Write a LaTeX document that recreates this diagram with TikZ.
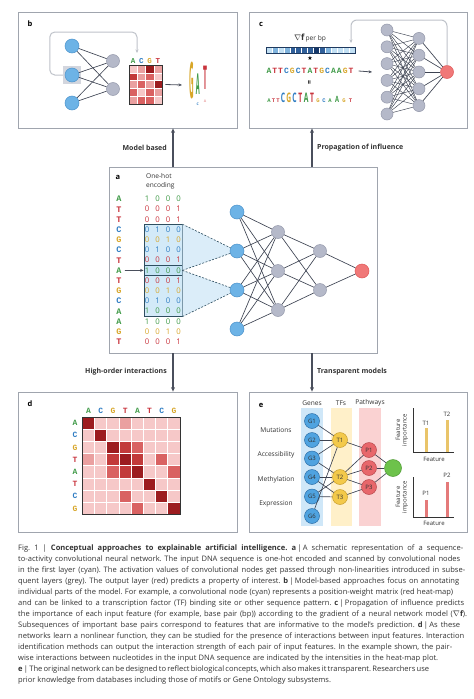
\documentclass[tikz,border=0pt]{standalone}
\usepackage{fontspec}
\setmainfont{Open Sans}
\newfontfamily\seqf{Liberation Mono}
\newfontfamily\symf{DejaVu Sans}
\usepackage{graphicx}
\usetikzlibrary{arrows.meta}
\newcommand\capline[2]{\makebox[#1pt][s]{#2}\\}
\definecolor{boxgray}{HTML}{A0A5AE}
\definecolor{arrgray}{HTML}{4A4F5C}
\definecolor{nblue}{HTML}{6DB3E6}
\definecolor{nblueD}{HTML}{4C93CC}
\definecolor{ngray}{HTML}{B5B9C9}
\definecolor{ngrayD}{HTML}{9599AB}
\definecolor{nred}{HTML}{F07878}
\definecolor{nredD}{HTML}{E05858}
\definecolor{edgec}{HTML}{3D4352}
\definecolor{hlfill}{HTML}{D3EAF8}
\definecolor{hlin}{HTML}{C4E3F5}
\definecolor{hldraw}{HTML}{2E4E60}
\definecolor{trifill}{HTML}{CFE8F8}
\definecolor{loopgray}{HTML}{BFC3CA}
\definecolor{sqgray}{HTML}{D3D6DE}
\definecolor{colA}{HTML}{3F9A47}
\definecolor{colC}{HTML}{2F7DC3}
\definecolor{colG}{HTML}{D8A628}
\definecolor{colT}{HTML}{C9343D}
\definecolor{m0}{HTML}{F6C8C8}
\definecolor{m1}{HTML}{EAA0A0}
\definecolor{m2}{HTML}{D96262}
\definecolor{m3}{HTML}{C23A3A}
\definecolor{m4}{HTML}{9C1C1F}
\definecolor{g0}{HTML}{C2E0F4}
\definecolor{g1}{HTML}{7FB3DD}
\definecolor{g2}{HTML}{2F5F9A}
\definecolor{g3}{HTML}{16386A}
\definecolor{gbord}{HTML}{1F3A5F}
\definecolor{genef}{HTML}{4FA3E0}
\definecolor{geneD}{HTML}{2D6FA8}
\definecolor{tff}{HTML}{F3C94A}
\definecolor{tfD}{HTML}{C9A030}
\definecolor{pf}{HTML}{E8676B}
\definecolor{pD}{HTML}{B84A4E}
\definecolor{grf}{HTML}{6DC24B}
\definecolor{grD}{HTML}{4E9A33}
\definecolor{stripB}{HTML}{CFE7F8}
\definecolor{stripY}{HTML}{FFF0C9}
\definecolor{stripP}{HTML}{FAD2D2}
\definecolor{barY}{HTML}{E9C46A}
\definecolor{barP}{HTML}{E47A7A}
\definecolor{txt}{HTML}{333333}
\begin{document}
\begin{tikzpicture}[x=1pt,y=-1pt,
 panel/.style={draw=boxgray, line width=0.8pt, inner sep=0},
 conn/.style={draw=arrgray, line width=1.1pt, -{Stealth[length=4.5pt,width=4pt]}},
 arr/.style={draw=arrgray, line width=0.8pt, -{Stealth[length=3.5pt,width=3pt]}},
 loopc/.style={draw=loopgray, line width=1pt, rounded corners=5pt, -{Stealth[length=3.5pt,width=3pt]}},
 lab/.style={font=\fontsize{7}{9}\selectfont\bfseries, text=txt, inner sep=0},
 plabel/.style={font=\fontsize{7.5}{9}\selectfont\bfseries, text=black, inner sep=0},
 bn/.style={circle, fill=nblue, draw=nblueD, line width=0.5pt, minimum size=14pt, inner sep=0},
 gn/.style={circle, fill=ngray, draw=ngrayD, line width=0.5pt, minimum size=13pt, inner sep=0},
 rn/.style={circle, fill=nred, draw=nredD, line width=0.5pt, minimum size=14pt, inner sep=0},
 ed/.style={draw=edgec, line width=0.65pt},
 edt/.style={draw=edgec, line width=0.45pt},
 dsh/.style={draw=hldraw, line width=0.6pt, dashed, dash pattern=on 2pt off 1.5pt},
 seqL/.style={font={\fontsize{8.5}{9}\seqf\bfseries}, inner sep=0},
 dig/.style={font=\fontsize{7.8}{9}\selectfont, inner sep=0},
 small/.style={font=\fontsize{6.6}{8.5}\selectfont, text=txt, inner sep=0},
 tiny/.style={font=\fontsize{6}{6.5}\selectfont, text=txt, inner sep=0},
 en/.style={circle, line width=0.5pt, minimum size=15pt, inner sep=0, font=\fontsize{6}{7}\selectfont, text=txt},
]
\useasboundingbox[fill=white] (0,0) rectangle (474,699);

% ---------- panels ----------
\node[panel, minimum width=219pt, minimum height=116pt] (pb) at (127.5,70) {};
\node[panel, minimum width=218pt, minimum height=116pt] (pc) at (358,70) {};
\node[panel, minimum width=268pt, minimum height=186pt] (pa) at (243,260) {};
\node[panel, minimum width=219pt, minimum height=140pt] (pd) at (127.5,462) {};
\node[panel, minimum width=218pt, minimum height=140pt] (pe) at (358,462) {};

\coordinate (xl) at (173,0);
\coordinate (xr) at (312,0);
\draw[conn] (pa.north -| xl) -- (pb.south -| xl);
\draw[conn] (pa.north -| xr) -- (pc.south -| xr);
\draw[conn] (pa.south -| xl) -- (pd.north -| xl);
\draw[conn] (pa.south -| xr) -- (pe.north -| xr);
\node[lab, anchor=east] (lmb) at (167,148) {Model based};
\node[lab, anchor=west] (lpi) at (317,148) {Propagation of influence};
\node[lab, anchor=east] (lhi) at (167,372) {High-order interactions};
\node[lab, anchor=west] (ltm) at (317,372) {Transparent models};

% ---------- panel a ----------
\node[plabel] (la) at (118,177) {a};
\node[small, anchor=west, align=left] (ohe) at (146,181.5) {One-hot\\encoding};
\node[draw=hldraw, line width=0.8pt, fill=hlfill, minimum width=38pt, minimum height=91.6pt, inner sep=0] (hbox) at (163,270.4) {};
\node[draw=hldraw, line width=0.8pt, fill=hlin, minimum width=38pt, minimum height=10.2pt, inner sep=0] (hin) at (163,270.4) {};
\coordinate (pa1) at (237,212);
\coordinate (pa2) at (237,251);
\coordinate (pa3) at (237,290);
\coordinate (pa4) at (237,329);
\fill[trifill, opacity=0.75] (hbox.north east) -- (pa2) -- (hin.east) -- cycle;
\fill[trifill, opacity=0.75] (hin.east) -- (pa3) -- (hbox.south east) -- cycle;
\foreach \bb/\xa/\xb/\xc/\xd [count=\i from 0] in {A/1/0/0/0, T/0/0/0/1, T/0/0/0/1, C/0/1/0/0, G/0/0/1/0, C/0/1/0/0, T/0/0/0/1, A/1/0/0/0, T/0/0/0/1, G/0/0/1/0, C/0/1/0/0, A/1/0/0/0, A/1/0/0/0, G/0/0/1/0, T/0/0/0/1}{
  \pgfmathsetmacro{\yy}{199+10.2*\i}
  \node[seqL, text=col\bb] (s\i) at (119,\yy) {\bb};
  \node[dig, text=col\bb] (d\i-1) at (147,\yy) {\xa};
  \node[dig, text=col\bb] (d\i-2) at (157.5,\yy) {\xb};
  \node[dig, text=col\bb] (d\i-3) at (168,\yy) {\xc};
  \node[dig, text=col\bb] (d\i-4) at (178.5,\yy) {\xd};
}
\draw[arr] ([xshift=3pt]s7.east) -- (hin.west);
\node[bn] (a1) at (pa1) {};
\node[bn] (a2) at (pa2) {};
\node[bn] (a3) at (pa3) {};
\node[bn] (a4) at (pa4) {};
\node[gn] (h1) at (278,232) {};
\node[gn] (h2) at (278,271) {};
\node[gn] (h3) at (278,310) {};
\node[gn] (k1) at (320,251) {};
\node[gn] (k2) at (320,290) {};
\node[rn] (o) at (362,271) {};
\draw[dsh] (hbox.north east) -- (a2);
\draw[dsh] (hin.east) -- (a2);
\draw[dsh] (hin.east) -- (a3);
\draw[dsh] (hbox.south east) -- (a3);
\foreach \i in {1,...,4}{\foreach \j in {1,2,3}{\draw[ed] (a\i) -- (h\j);}}
\foreach \i in {1,2,3}{\foreach \j in {1,2}{\draw[ed] (h\i) -- (k\j);}}
\foreach \j in {1,2}{\draw[ed] (k\j) -- (o);}

% ---------- panel b ----------
\node[plabel] (lb) at (30,24) {b};
\node[fill=sqgray, minimum size=18pt, inner sep=0] (sq) at (72,75) {};
\node[bn] (b1) at (72,46) {};
\node[bn] (b2) at (72,75) {};
\node[bn] (b3) at (72,103) {};
\node[gn] (bg1) at (113,61) {};
\node[gn] (bg2) at (113,89) {};
\foreach \i in {1,2,3}{\foreach \j in {1,2}{\draw[ed] (b\i) -- (bg\j);}}
\coordinate (bend) at (137,53);
\draw[loopc] (sq.west) -- ++(-13,0) -- ++(0,-43) -- (137,32) -- (bend);
\foreach \bb [count=\i from 0] in {A,C,G,T}{
  \node[font={\fontsize{7.5}{8}\seqf\bfseries}, inner sep=0, text=col\bb] (bh\i) at ({133.1+8.25*\i},61) {\bb};
}
\foreach \rr/\vals in {0/{0,1,4,1}, 1/{3,1,2,0}, 2/{1,2,1,4}, 3/{2,0,2,1}, 4/{1,2,2,0}}{
  \foreach \v [count=\c from 0] in \vals {
    \filldraw[fill=m\v, draw=white, line width=0.5pt] ({129+8.25*\c},{65+7.8*\rr}) rectangle ++(8.25,7.8);
  }
}
\node[draw=black!80, line width=0.7pt, minimum width=33pt, minimum height=39pt, inner sep=0] (bmat) at (145.5,84.5) {};
\coordinate (blogo) at (182,85);
\draw[arr] ([xshift=3pt]bmat.east) -- (blogo);
\node[inner sep=0, text=colG, font=\fontsize{8}{8}\selectfont\bfseries] (lgG) at (191.5,80) {\scalebox{0.8}[6.3]{G}};
\node[inner sep=0, text=colA, font=\fontsize{8}{8}\selectfont\bfseries] (lgA) at (197.8,84) {\scalebox{0.7}[3.6]{A}};
\node[inner sep=0, text=colT, font=\fontsize{8}{8}\selectfont\bfseries] (lgT) at (205,78) {\scalebox{0.85}[4.1]{T}};
\node[inner sep=0, text=colC, font=\fontsize{3.5}{4}\selectfont\bfseries] (lgc) at (197.8,104) {C};
\node[inner sep=0, text=m1, font=\fontsize{3.5}{4}\selectfont\bfseries] (lgt) at (205,101) {A};

% ---------- panel c ----------
\node[plabel] (lc) at (261,24) {c};
\node[inner sep=0, font=\fontsize{6.6}{8}\selectfont, text=txt] (gl) at (310,38) {{\fontsize{8.5}{9}\selectfont$\nabla\mathbf{f}$}\,per bp};
\foreach \v [count=\i from 0] in {0,1,0,1,2,2,2,2,3,2,1,0,0,0,0}{
  \filldraw[fill=g\v, draw=white, line width=0.4pt] ({266+5.93*\i},47) rectangle ++(5.93,6);
}
\node[draw=gbord, line width=0.7pt, minimum width=89pt, minimum height=6pt, inner sep=0] (gbar) at (310.5,50) {};
\node[inner sep=0, font=\fontsize{6}{6}\symf, text=black] (st) at (310,58.5) {★};
\foreach \bb [count=\i from 0] in {A,T,T,C,G,C,T,A,T,G,C,A,A,G,T}{
  \node[font={\fontsize{8}{8}\seqf\bfseries}, inner sep=0, text=col\bb] (cs\i) at ({268.9+5.87*\i},71) {\bb};
}
\node[inner sep=0, rotate=90, font=\fontsize{7}{7}\selectfont\bfseries, text=black] (eq) at (310,83) {=};
\foreach \bb/\xx [count=\i from 0] in {A/269,T/273.5,T/278,G/318,C/324,A/330,G/344,T/350.5}{
  \node[anchor=base, font={\fontsize{5.5}{6}\seqf\bfseries}, inner sep=0, text=col\bb] (cz\i) at (\xx,102) {\bb};
}
\node[anchor=base, font={\fontsize{5.5}{6}\seqf\bfseries}, inner sep=0, text=colA] (czA) at (337,102) {\scalebox{1.2}[1.7]{A}};
\foreach \bb/\xx [count=\i from 0] in {C/283,G/288.8,C/294.6,T/300.4,A/306.2,T/312}{
  \node[anchor=base, font=\fontsize{7.5}{8}\selectfont\bfseries, inner sep=0, text=col\bb] (cb\i) at (\xx,102) {\scalebox{0.9}[1.75]{\bb}};
}
\coordinate (cae) at (372,72);
\draw[arr] ([xshift=5pt]cs14.east) -- (cae);
\foreach \i in {1,...,6}{\node[gn, minimum size=12pt] (c\i) at (387,{30+16.8*(\i-1)}) {};}
\foreach \i in {1,...,5}{\node[gn, minimum size=12pt] (e\i) at (419,{38.4+16.8*(\i-1)}) {};}
\node[rn, minimum size=13pt] (co) at (447,72) {};
\foreach \i in {1,...,6}{\foreach \j in {1,...,5}{\draw[edt] (c\i) -- (e\j);}}
\foreach \j in {1,...,5}{\draw[ed] (e\j) -- (co);}
\coordinate (cbend) at (351,43);
\draw[loopc, rounded corners=6pt] (co.north) -- (447,20) -- (351,20) -- (cbend);

% ---------- panel d ----------
\node[plabel] (ld) at (30,404) {d};
\foreach \rr/\vals in {0/{4,0,0,1,0,0,0,0}, 1/{0,4,0,0,0,0,0,0}, 2/{0,0,4,3,2,0,0,0}, 3/{1,0,3,4,3,0,2,0}, 4/{0,0,2,3,4,0,0,2}, 5/{0,0,0,0,0,4,0,0}, 6/{0,0,0,2,0,0,4,0}, 7/{0,0,0,0,2,0,0,4}}{
  \foreach \v [count=\c from 0] in \vals {
    \filldraw[fill=m\v, draw=white, line width=0.9pt] ({82.5+12.2*\c},{417+12.2*\rr}) rectangle ++(12.2,12.2);
  }
}
\node[draw=black!80, line width=0.7pt, minimum width=97.6pt, minimum height=97.6pt, inner sep=0] (dmat) at (131.3,465.8) {};
\foreach \bb [count=\i from 0] in {A,C,G,T,A,T,C,G}{
  \node[font={\fontsize{8}{8}\seqf\bfseries}, inner sep=0, text=col\bb] (dh\i) at ({88.6+12.2*\i},411) {\bb};
  \node[font={\fontsize{8}{8}\seqf\bfseries}, inner sep=0, text=col\bb] (dr\i) at (75,{423.1+12.2*\i}) {\bb};
}

% ---------- panel e ----------
\node[plabel] (le) at (261,405) {e};
\fill[stripB] (301,408) rectangle (323,526);
\fill[stripY] (331,408) rectangle (352,526);
\fill[stripP] (359,408) rectangle (381,526);
\node[small] (hG) at (312,403) {Genes};
\node[small] (hT) at (341,403) {TFs};
\node[small] (hP) at (370,403) {Pathways};
\node[small] (rm) at (276,430) {Mutations};
\node[small] (ra) at (276,455) {Accessibility};
\node[small] (rme) at (276,480) {Methylation};
\node[small] (rex) at (276,504) {Expression};
\foreach \yy [count=\i] in {421,440,458.5,477,496.5,516}{
  \node[en, fill=genef, draw=geneD] (G\i) at (312,\yy) {G\i};
}
\node[en, fill=tff, draw=tfD] (T1) at (340,440) {T1};
\node[en, fill=tff, draw=tfD] (T2) at (340,477) {T2};
\node[en, fill=tff, draw=tfD] (T3) at (340,497) {T3};
\node[en, fill=pf, draw=pD] (P1) at (369,450) {P1};
\node[en, fill=pf, draw=pD] (P2) at (369,468) {P2};
\node[en, fill=pf, draw=pD] (P3) at (369,487) {P3};
\node[en, fill=grf, draw=grD, minimum size=17pt] (GR) at (393,468) {};
\foreach \u/\w in {G1/T1, G2/T1, G3/T1, G3/T2, G4/T2, G4/T3, G5/T2, G5/T3, G6/T1, T1/P1, T2/P1, T2/P2, T2/P3, T3/P3, P1/GR, P2/GR, P3/GR}{
  \draw[ed] (\u) -- (\w);
}
% bar charts
\draw[draw=txt, line width=0.6pt] (413,408) -- (413,452) -- (454,452);
\fill[barY] (424.5,428) rectangle (427.5,452);
\fill[barY] (445.5,420) rectangle (448.5,452);
\node[tiny] (t1l) at (426,423) {T1};
\node[tiny] (t2l) at (447,414) {T2};
\node[tiny] (fx1) at (434,459) {Feature};
\node[tiny, rotate=90, align=center] (fy1) at (402,430) {Feature\\importance};
\draw[draw=txt, line width=0.6pt] (413,477) -- (413,517) -- (454,517);
\fill[barP] (424.5,500) rectangle (427.5,517);
\fill[barP] (445.5,482) rectangle (448.5,517);
\node[tiny] (p1l) at (426,493) {P1};
\node[tiny] (p2l) at (447,475) {P2};
\node[tiny] (fx2) at (434,523) {Feature};
\node[tiny, rotate=90, align=center] (fy2) at (402,497) {Feature\\importance};

% ---------- caption ----------
\node[anchor=north west, text width=456pt, inner sep=0, align=left, font=\fontsize{7.55}{11}\selectfont, text=txt] (cap) at (18,544.5) {\frenchspacing\spaceskip=0pt\xspaceskip=0pt
\capline{445}{Fig.~1 | \textbf{Conceptual approaches to explainable artificial intelligence. a}\,|\,A schematic representation of a sequence-}
\capline{442}{to-activity convolutional neural network. The input DNA sequence is one-hot encoded and scanned by convolutional nodes}
\capline{447}{in the first layer (cyan). The activation values of convolutional nodes get passed through non-linearities introduced in subse-}
\capline{441}{quent layers (grey). The output layer (red) predicts a property of interest. \textbf{b}\,|\,Model-based approaches focus on annotating}
\capline{435}{individual parts of the model. For example, a convolutional node (cyan) represents a position-weight matrix (red heat-map)}
\capline{446}{and can be linked to a transcription factor (TF) binding site or other sequence pattern. \textbf{c}\,|\,Propagation of influence predicts}
\capline{449}{the importance of each input feature (for example, base pair (bp)) according to the gradient of a neural network model ($\nabla\mathbf{f}$).}
\capline{442}{Subsequences of important base pairs correspond to features that are informative to the model’s prediction. \textbf{d}\,|\,As these}
\capline{446}{networks learn a nonlinear function, they can be studied for the presence of interactions between input features. Interaction}
\capline{434}{identification methods can output the interaction strength of each pair of input features. In the example shown, the pair-}
\capline{420}{wise interactions between nucleotides in the input DNA sequence are indicated by the intensities in the heat-map plot.}
\capline{410}{\textbf{e}\,|\,The original network can be designed to reflect biological concepts, which also makes it transparent. Researchers use}
\mbox{prior knowledge from databases including those of motifs or Gene Ontology subsystems.}};
\end{tikzpicture}
\end{document}
